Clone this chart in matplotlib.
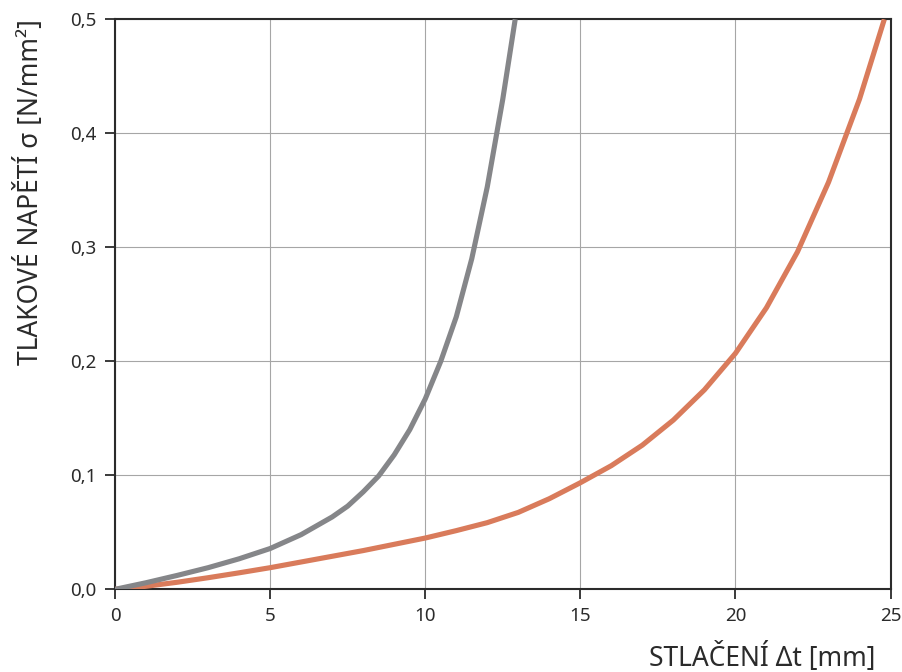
import matplotlib.pyplot as plt

plt.rcParams["font.family"] = ["Noto Sans", "DejaVu Sans"]

# curve 1 (grey)
gray_x = [0, 1, 2, 3, 4, 5, 6, 7, 7.5, 8, 8.5, 9, 9.5, 10, 10.5, 11, 11.5,
          12, 12.5, 12.9]
gray_y = [0.0, 0.0058, 0.0122, 0.019, 0.0268, 0.0358, 0.048, 0.0635, 0.073,
          0.0855, 0.0995, 0.118, 0.14, 0.167, 0.2, 0.239, 0.29, 0.353, 0.43,
          0.5]

# curve 2 (orange)
orange_x = [0, 1, 2, 3, 4, 5, 6, 7, 8, 9, 10, 11, 12, 13, 14, 15, 16, 17, 18,
            19, 20, 21, 22, 23, 24, 24.8]
orange_y = [0.0, 0.0027, 0.0062, 0.0102, 0.0145, 0.019, 0.024, 0.029, 0.034,
            0.0395, 0.045, 0.0515, 0.0585, 0.0675, 0.0795, 0.0935, 0.1085,
            0.1265, 0.1485, 0.175, 0.207, 0.247, 0.296, 0.357, 0.43, 0.5]

x_ticks = [0, 5, 10, 15, 20, 25]
y_ticks = [0.0, 0.1, 0.2, 0.3, 0.4, 0.5]
y_tick_labels = ["0,0", "0,1", "0,2", "0,3", "0,4", "0,5"]

fig = plt.figure(figsize=(9.03, 6.72), dpi=100)
ax = fig.add_axes([0.1274, 0.123, 0.8588, 0.8483])

ax.plot(orange_x, orange_y, color="#d97b5b", lw=3.7, solid_capstyle="butt",
        solid_joinstyle="round", zorder=3)
ax.plot(gray_x, gray_y, color="#858689", lw=3.7, solid_capstyle="butt",
        solid_joinstyle="round", zorder=4)

ax.set_xlim(0, 25)
ax.set_ylim(0, 0.5)
ax.set_xticks(x_ticks)
ax.set_yticks(y_ticks)
ax.set_yticklabels(y_tick_labels)
ax.grid(True, color="#a6a6a6", lw=0.8)
ax.set_axisbelow(True)

for s in ax.spines.values():
    s.set_color("#2b2b2b")
    s.set_linewidth(1.5)

ax.tick_params(axis="both", direction="out", length=7.5, width=1.3,
               color="#2b2b2b", labelsize=13.5, labelcolor="#2b2b2b")
ax.tick_params(axis="x", pad=5)
ax.tick_params(axis="y", pad=6)

ax.set_xlabel("STLAČENÍ Δt [mm]", fontsize=19, color="#2b2b2b", loc="right")
ax.xaxis.set_label_coords(0.98, -0.095)
ax.set_ylabel("TLAKOVÉ NAPĚTÍ σ [N/mm²]", fontsize=19, color="#2b2b2b", loc="top")
ax.yaxis.set_label_coords(-0.09, 1.0)

fig.savefig("out.png", dpi=100)
